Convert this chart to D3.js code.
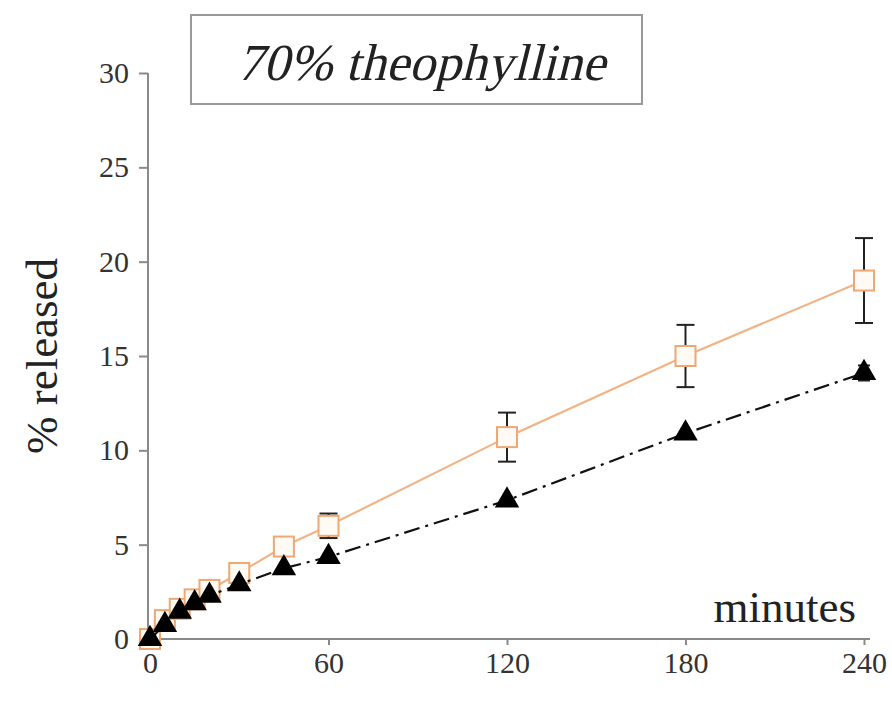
<!doctype html>
<html>
<head>
  <meta charset="utf8"/>
  <style>
    body { margin: 0; background: #fff; }
  </style>
</head>
<body>
  <svg width='892' height='702'></svg>
  <script src="https://d3js.org/d3.v7.min.js"></script>
  <script>

    // sampling times (minutes)
    var times = [0, 5, 10, 15, 20, 30, 45, 60, 120, 180, 240];
    // open squares, solid orange line
    var squareVals = [0, 1.0, 1.6, 2.1, 2.6, 3.5, 4.9, 6.0, 10.7, 15.0, 19.0];
    var squareErr  = [0, 0.1, 0.15, 0.2, 0.2, 0.3, 0.4, 0.65, 1.3, 1.65, 2.25];
    // filled triangles, dash-dot black line
    var triVals = [0, 0.75, 1.45, 1.9, 2.3, 2.9, 3.75, 4.35, 7.35, 10.9, 14.1];
    var triErr  = [0, 0.05, 0.05, 0.05, 0.1, 0.1, 0.1, 0.15, 0.2, 0.3, 0.4];
    var xTicks = [0, 60, 120, 180, 240];
    var yTicks = [0, 5, 10, 15, 20, 25, 30];

    var svg = d3.select('svg');
    var serif = "'Liberation Serif', 'Times New Roman', serif";

    var x = d3.scaleLinear().domain([0, 240]).range([150, 864]);
    var y = d3.scaleLinear().domain([0, 30]).range([639, 73]);

    var axisColor = '#8a8a8a';

    // y axis
    var yAxis = svg.append('g')
      .attr('transform', 'translate(148,0)')
      .call(d3.axisLeft(y).tickValues(yTicks).tickSize(9).tickPadding(10));
    yAxis.attr('font-family', serif).attr('font-size', 30);
    yAxis.select('.domain').attr('stroke', axisColor).attr('stroke-width', 2)
      .attr('d', 'M0,' + y(30) + 'V' + y(0));
    yAxis.selectAll('.tick line').attr('stroke', axisColor).attr('stroke-width', 2);
    yAxis.selectAll('.tick text').attr('fill', '#333');

    // x axis
    var xAxis = svg.append('g')
      .attr('transform', 'translate(0,' + y(0) + ')')
      .call(d3.axisBottom(x).tickValues(xTicks).tickSize(6).tickPadding(7));
    xAxis.attr('font-family', serif).attr('font-size', 30);
    xAxis.select('.domain').attr('stroke', axisColor).attr('stroke-width', 2)
      .attr('d', 'M148,0H' + (x(240) + 6));
    xAxis.selectAll('.tick line').attr('stroke', axisColor).attr('stroke-width', 2);
    xAxis.selectAll('.tick text').attr('fill', '#333');

    // axis titles
    svg.append('text')
      .attr('transform', 'translate(57,' + 356 + ') rotate(-90)')
      .attr('text-anchor', 'middle')
      .attr('font-family', serif)
      .attr('font-size', 45)
      .attr('fill', '#222')
      .text('% released');

    svg.append('text')
      .attr('x', 856).attr('y', 622)
      .attr('text-anchor', 'end')
      .attr('font-family', serif)
      .attr('font-size', 45)
      .attr('fill', '#222')
      .text('minutes');

    // title box
    svg.append('rect')
      .attr('x', 191).attr('y', 15)
      .attr('width', 451).attr('height', 89)
      .attr('fill', '#fff')
      .attr('stroke', '#999')
      .attr('stroke-width', 2);
    // slanted serif text (italic face not available)
    svg.append('text')
      .attr('transform', 'translate(421,80) skewX(-14)')
      .attr('text-anchor', 'middle')
      .attr('font-family', serif)
      .attr('font-size', 52)
      .attr('fill', '#222')
      .text('70% theophylline');

    var sq = times.map(function(t, i) { return {t: t, v: squareVals[i], e: squareErr[i]}; });
    var tr = times.map(function(t, i) { return {t: t, v: triVals[i], e: triErr[i]}; });

    var line = d3.line()
      .x(function(d) { return x(d.t); })
      .y(function(d) { return y(d.v); });

    // error bars
    function errorBars(data, cap) {
      var g = svg.append('g').attr('stroke', '#222').attr('stroke-width', 2);
      data.filter(function(d) { return d.e > 0.3; }).forEach(function(d) {
        var cx = x(d.t);
        g.append('line').attr('x1', cx).attr('x2', cx)
          .attr('y1', y(d.v + d.e)).attr('y2', y(d.v - d.e));
        g.append('line').attr('x1', cx - cap).attr('x2', cx + cap)
          .attr('y1', y(d.v + d.e)).attr('y2', y(d.v + d.e));
        g.append('line').attr('x1', cx - cap).attr('x2', cx + cap)
          .attr('y1', y(d.v - d.e)).attr('y2', y(d.v - d.e));
      });
    }

    // square series
    svg.append('path')
      .datum(sq)
      .attr('fill', 'none')
      .attr('stroke', '#f0b487')
      .attr('stroke-width', 2.2)
      .attr('d', line);
    errorBars(sq, 9);
    svg.append('g').selectAll('rect')
      .data(sq).join('rect')
      .attr('x', function(d) { return x(d.t) - 10; })
      .attr('y', function(d) { return y(d.v) - 10; })
      .attr('width', 20).attr('height', 20)
      .attr('fill', '#fffaf4')
      .attr('stroke', '#eea873')
      .attr('stroke-width', 2);

    // triangle series
    svg.append('path')
      .datum(tr)
      .attr('fill', 'none')
      .attr('stroke', '#111')
      .attr('stroke-width', 2.2)
      .attr('stroke-dasharray', '16,6,3,6')
      .attr('d', line);
    errorBars(tr, 6);
    svg.append('g').selectAll('path')
      .data(tr).join('path')
      .attr('transform', function(d) { return 'translate(' + x(d.t) + ',' + y(d.v) + ')'; })
      .attr('d', d3.symbol().type(d3.symbolTriangle).size(260))
      .attr('fill', '#000');

  </script>
</body>
</html>
